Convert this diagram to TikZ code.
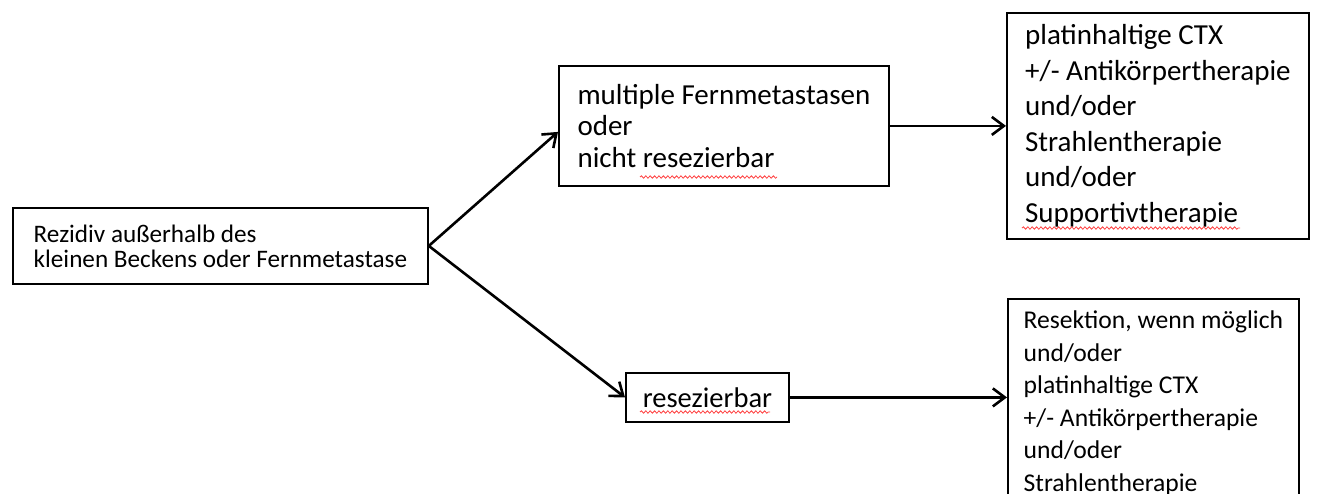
\documentclass[tikz,border=0pt]{standalone}
\usepackage{fontspec}
\setmainfont{Carlito}
\usetikzlibrary{arrows.meta,positioning,decorations.pathmorphing}
\tikzset{
  diagarr/.style={-{Straight Barb[length=6pt,width=9pt]}, line width=1.3pt},
  diagnode/.style={draw, line width=0.9pt, align=left, anchor=north west},
  wavy/.style={draw=red!75, line width=0.4pt, decorate, decoration={snake, amplitude=0.6pt, segment length=2.2pt}},
}

\begin{document}
\begin{tikzpicture}[x=0.5pt, y=-0.5pt]
  \clip (0,0) rectangle (1318,493);
  \node[diagnode, minimum width=207.5pt, minimum height=38pt, font=\fontsize{12.6}{12.5}\selectfont] (rez) at (12,207)
    {Rezidiv außerhalb des\\kleinen Beckens oder Fernmetastase};
  \node[diagnode, minimum width=165pt, minimum height=60pt, font=\fontsize{14.5}{15.8}\selectfont] (multi) at (558,65)
    {multiple Fernmetastasen\\oder\\nicht resezierbar};
  \node[diagnode, minimum width=151pt, minimum height=113pt, font=\fontsize{14.5}{17.75}\selectfont] (pal) at (1006,12)
    {platinhaltige CTX\\+/- Antikörpertherapie\\und/oder\\Strahlentherapie\\und/oder\\Supportivtherapie};
  \node[diagnode, minimum width=81.5pt, minimum height=24.5pt, font=\fontsize{14.25}{16}\selectfont] (res) at (625,372)
    {resezierbar};
  \node[diagnode, minimum width=145.5pt, inner ysep=6pt, font=\fontsize{12.8}{16.25}\selectfont] (rsk) at (1007,298)
    {Resektion, wenn möglich\\und/oder\\platinhaltige CTX\\+/- Antikörpertherapie\\und/oder\\Strahlentherapie};
  % Rechtschreibmarken
  \draw[wavy] (640,177) -- (777,177);
  \draw[wavy] (1022,228) -- (1240,228);
  \draw[wavy] (640,412) -- (770,412);
  % Pfeile
  \draw[diagarr] (rez.east) -- ([yshift=-3pt]multi.west);
  \draw[diagarr] (rez.east) -- (res.west);
  \draw[diagarr] (multi.east) -- (pal.west);
  \draw[diagarr] (res.east) -- (res.east -| rsk.west);
\end{tikzpicture}
\end{document}
